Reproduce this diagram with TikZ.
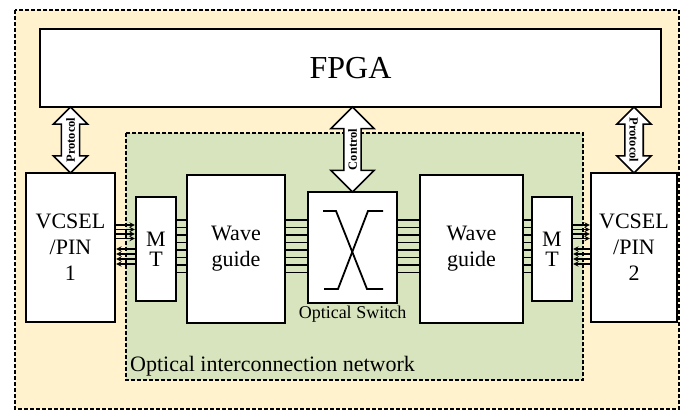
\documentclass[tikz,border=0pt]{standalone}
\usepackage{fontspec}
\setmainfont{Liberation Serif}
\usetikzlibrary{shapes.arrows,calc}
\definecolor{outerbg}{HTML}{FFF2CC}
\definecolor{netbg}{HTML}{D7E4BD}
\begin{document}
\begin{tikzpicture}[x=1pt, y=-1pt]
	\tikzstyle{Box} = [rectangle, draw=black, line width=2.2pt, fill=white, align=center, inner sep=0pt, font=\fontsize{22}{26}\selectfont]
	\tikzstyle{Link} = [double arrow, draw=black, line width=1.6pt, fill=white, inner xsep=0pt, font=\fontsize{12.5}{14}\selectfont\bfseries]
	\tikzstyle{region} = [line width=2pt, dash pattern=on 4pt off 2pt]
	\tikzstyle{fibre} = [line width=1.4pt]
	\tikzstyle{arrow} = [line width=1.4pt,->,>=stealth]

	\useasboundingbox (0,0) rectangle (681,412);
	\draw [region, fill=outerbg] (15,10) rectangle (679,409);
	\draw [region, fill=netbg] (126,133) rectangle (583,380);
	\node (net) [anchor=base west, inner sep=0pt, font=\fontsize{22}{26}\selectfont] at (130,371) {Optical interconnection network};

	\node (fpga) [Box, minimum width=621pt, minimum height=78pt, font=\fontsize{32}{36}\selectfont] at (350.5,68) {FPGA};
	\node (vcsel1) [Box, minimum width=89pt, minimum height=149pt] at (70.5,247.5) {VCSEL\\/PIN\\1};
	\node (mt1) [Box, minimum width=40pt, minimum height=104pt, font=\fontsize{22}{20}\selectfont] at (156,249) {M\\T};
	\node (wg1) [Box, minimum width=98pt, minimum height=148pt] at (236,249) {Wave\\guide};
	\node (sw) [Box, minimum width=89pt, minimum height=111pt] at (352.5,247.5) {};
	\node (wg2) [Box, minimum width=103pt, minimum height=148pt] at (471.5,249) {Wave\\guide};
	\node (mt2) [Box, minimum width=40pt, minimum height=104pt, font=\fontsize{22}{20}\selectfont] at (552,249) {M\\T};
	\node (vcsel2) [Box, minimum width=86pt, minimum height=149pt] at (634,247.5) {VCSEL\\/PIN\\2};
	\node (swtext) [anchor=base, inner sep=0pt, font=\fontsize{18}{20}\selectfont] at (352.5,318) {Optical Switch};

	% switch
	\draw [line width=1.8pt] (sw.center) ++(-29.5,-36.5) -- ++(13,0) -- ++(31,78) -- ++(16,0);
	\draw [line width=1.8pt] (sw.center) ++(30.5,-36.5) -- ++(-15,0) -- ++(-30,78) -- ++(-14,0);

	\node (proto1) [Link, rotate=90, minimum height=66pt, double arrow head extend=8pt, inner ysep=4pt]
		at ($(vcsel1.north)!.5!(fpga.south -| vcsel1.north)$) {Protocol};
	\node (ctrl) [Link, rotate=90, minimum height=85pt, double arrow head extend=13pt, inner ysep=3.5pt]
		at ($(sw.north)!.5!(fpga.south -| sw.north)$) {Control};
	\node (proto2) [Link, rotate=-90, minimum height=66pt, double arrow head extend=8pt, inner ysep=4pt]
		at ($(vcsel2.north)!.5!(fpga.south -| vcsel2.north)$) {Protocol};

	\foreach \y in {220,227.5,...,273} {
		\draw [fibre] (mt1.east |- 0,\y) -- (wg1.west |- 0,\y);
		\draw [fibre] (wg1.east |- 0,\y) -- (sw.west |- 0,\y);
		\draw [fibre] (sw.east |- 0,\y) -- (wg2.west |- 0,\y);
		\draw [fibre] (wg2.east |- 0,\y) -- (mt2.west |- 0,\y);
	}
	\foreach \y in {225,229.5,234,238.5} {
		\draw [arrow] (vcsel1.east |- 0,\y) -- (mt1.west |- 0,\y);
		\draw [arrow] (mt2.east |- 0,\y) -- (vcsel2.west |- 0,\y);
	}
	\foreach \y in {249,254,259,264} {
		\draw [arrow] (mt1.west |- 0,\y) -- (vcsel1.east |- 0,\y);
		\draw [arrow] (vcsel2.west |- 0,\y) -- (mt2.east |- 0,\y);
	}
\end{tikzpicture}
\end{document}
